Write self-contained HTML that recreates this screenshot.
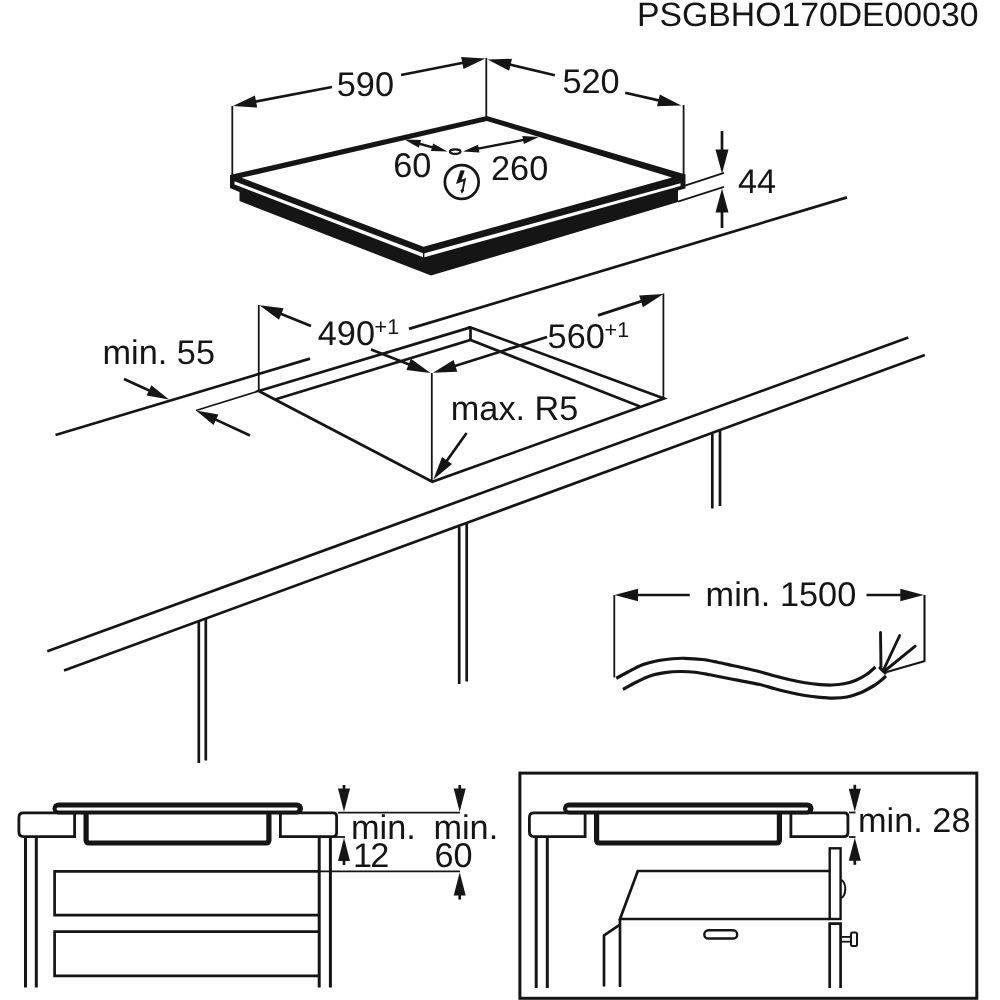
<!DOCTYPE html>
<html><head><meta charset="utf-8"><title>PSGBHO170DE00030</title>
<style>
html,body{margin:0;padding:0;background:#fff;}
body{width:1000px;height:1000px;overflow:hidden;}
svg{display:block;text-rendering:geometricPrecision;will-change:transform;}
svg text{font-family:"Liberation Sans",sans-serif;fill:#151515;}
</style></head><body>
<svg width="1000" height="1000" viewBox="0 0 1000 1000">
<rect width="1000" height="1000" fill="#ffffff"/>
<text x="637.00" y="25.8" font-size="33.75">PSGBHO170DE00030</text>
<line x1="55.5" y1="435.0" x2="310" y2="358.6017687934302" stroke="#151515" stroke-width="2.7" stroke-linecap="butt"/>
<line x1="409" y1="328.88300694883134" x2="847" y2="197.4" stroke="#151515" stroke-width="2.7" stroke-linecap="butt"/>
<line x1="47.3" y1="651.3" x2="908.3" y2="337.5" stroke="#151515" stroke-width="2.7" stroke-linecap="butt"/>
<line x1="64" y1="670.5" x2="924.8" y2="355" stroke="#151515" stroke-width="2.7" stroke-linecap="butt"/>
<line x1="198.8" y1="621.8" x2="198.8" y2="763.0" stroke="#151515" stroke-width="2.7" stroke-linecap="butt"/>
<line x1="205.8" y1="618.8" x2="205.8" y2="760.5" stroke="#151515" stroke-width="2.7" stroke-linecap="butt"/>
<line x1="459.2" y1="527" x2="459.2" y2="684.0" stroke="#151515" stroke-width="2.7" stroke-linecap="butt"/>
<line x1="466.7" y1="524" x2="466.7" y2="681.5" stroke="#151515" stroke-width="2.7" stroke-linecap="butt"/>
<line x1="712.3" y1="434" x2="712.3" y2="508.5" stroke="#151515" stroke-width="2.7" stroke-linecap="butt"/>
<line x1="720" y1="431" x2="720" y2="506" stroke="#151515" stroke-width="2.7" stroke-linecap="butt"/>
<polyline points="258.75,391.00 470.50,327.40 664.00,398.50 432.30,481.80 258.75,391.00 470.50,327.40" fill="none" stroke="#151515" stroke-width="2.7" stroke-linejoin="miter" stroke-linecap="butt"/>
<polyline points="275.00,399.50 470.50,340.00 640.00,406.50" fill="none" stroke="#151515" stroke-width="2.7" stroke-linejoin="miter" stroke-linecap="butt"/>
<line x1="470.5" y1="327.4" x2="470.5" y2="340" stroke="#151515" stroke-width="2.7" stroke-linecap="butt"/>
<line x1="258.75" y1="305" x2="258.75" y2="391" stroke="#151515" stroke-width="1.8" stroke-linecap="butt"/>
<line x1="663.4" y1="293.5" x2="663.4" y2="398.5" stroke="#151515" stroke-width="1.8" stroke-linecap="butt"/>
<line x1="431.8" y1="373" x2="431.8" y2="481.5" stroke="#151515" stroke-width="1.8" stroke-linecap="butt"/>
<line x1="258.75" y1="391" x2="196" y2="410.5" stroke="#151515" stroke-width="1.8" stroke-linecap="butt"/>
<line x1="311" y1="326" x2="276.94" y2="312.31" stroke="#151515" stroke-width="2.7" stroke-linecap="butt"/>
<polygon points="259.50,305.30 283.60,308.36 279.01,319.77" fill="#151515" stroke="none" stroke-width="0" stroke-linejoin="miter"/>
<line x1="371" y1="349.5" x2="413.01" y2="366.09" stroke="#151515" stroke-width="2.7" stroke-linecap="butt"/>
<polygon points="430.50,373.00 406.38,370.09 410.90,358.65" fill="#151515" stroke="none" stroke-width="0" stroke-linejoin="miter"/>
<text x="317.80" y="344.5" font-size="34.3">490</text>
<text x="374.60" y="333.6" font-size="21.5">+1</text>
<line x1="547" y1="337" x2="450.94" y2="367.17" stroke="#151515" stroke-width="2.7" stroke-linecap="butt"/>
<polygon points="433.00,372.80 453.58,359.89 457.26,371.63" fill="#151515" stroke="none" stroke-width="0" stroke-linejoin="miter"/>
<line x1="598" y1="315.4" x2="645.53" y2="299.85" stroke="#151515" stroke-width="2.7" stroke-linecap="butt"/>
<polygon points="663.40,294.00 642.98,307.15 639.15,295.46" fill="#151515" stroke="none" stroke-width="0" stroke-linejoin="miter"/>
<text x="547.60" y="347.6" font-size="34.3">560</text>
<text x="604.60" y="336.6" font-size="21.5">+1</text>
<text x="102.50" y="364" font-size="34.3">min. 55</text>
<line x1="124" y1="379" x2="152.98" y2="392.2" stroke="#151515" stroke-width="2.7" stroke-linecap="butt"/>
<polygon points="169.00,399.50 146.60,395.61 151.36,385.15" fill="#151515" stroke="none" stroke-width="0" stroke-linejoin="miter"/>
<line x1="250" y1="435.5" x2="211.97" y2="417.89" stroke="#151515" stroke-width="2.7" stroke-linecap="butt"/>
<polygon points="196.00,410.50 218.38,414.52 213.55,424.96" fill="#151515" stroke="none" stroke-width="0" stroke-linejoin="miter"/>
<text x="450.75" y="420" font-size="34.3">max. R5</text>
<line x1="466.6" y1="433" x2="444.31" y2="464.29" stroke="#151515" stroke-width="2.7" stroke-linecap="butt"/>
<polygon points="433.40,479.60 442.03,456.89 452.04,464.03" fill="#151515" stroke="none" stroke-width="0" stroke-linejoin="miter"/>
<line x1="685" y1="185.7" x2="724" y2="172.8" stroke="#151515" stroke-width="1.8" stroke-linecap="butt"/>
<line x1="678" y1="201.6" x2="724" y2="186.8" stroke="#151515" stroke-width="1.8" stroke-linecap="butt"/>
<polygon points="230.00,175.00 486.80,116.00 685.50,174.50 685.50,188.50 678.00,190.50 678.00,202.00 431.00,275.60 239.50,201.00 239.50,192.00 230.00,188.00" fill="#151515" stroke="none" stroke-width="0" stroke-linejoin="miter"/>
<polygon points="241.50,177.80 486.80,121.00 672.00,177.40 423.50,246.80" fill="#fff" stroke="none" stroke-width="0" stroke-linejoin="miter"/>
<polygon points="234.50,181.20 423.70,253.40 680.50,183.20 680.50,186.00 423.70,257.40 234.50,184.60" fill="#fff" stroke="none" stroke-width="0" stroke-linejoin="miter"/>
<line x1="423.7" y1="252" x2="423.7" y2="258" stroke="#151515" stroke-width="1.4" stroke-linecap="butt"/>
<line x1="232.3" y1="106" x2="232.3" y2="176" stroke="#151515" stroke-width="1.8" stroke-linecap="butt"/>
<line x1="486.3" y1="58" x2="486.3" y2="118" stroke="#151515" stroke-width="1.8" stroke-linecap="butt"/>
<line x1="683.6" y1="105" x2="683.6" y2="175" stroke="#151515" stroke-width="1.8" stroke-linecap="butt"/>
<line x1="332" y1="87" x2="251.46" y2="102.46" stroke="#151515" stroke-width="2.7" stroke-linecap="butt"/>
<polygon points="233.00,106.00 254.92,95.53 257.24,107.61" fill="#151515" stroke="none" stroke-width="0" stroke-linejoin="miter"/>
<line x1="401" y1="75" x2="466.95" y2="62.03" stroke="#151515" stroke-width="2.7" stroke-linecap="butt"/>
<polygon points="485.40,58.40 463.53,68.97 461.15,56.90" fill="#151515" stroke="none" stroke-width="0" stroke-linejoin="miter"/>
<text x="336.80" y="96.4" font-size="34.3">590</text>
<line x1="554.8" y1="75.2" x2="506.0" y2="63.71" stroke="#151515" stroke-width="2.7" stroke-linecap="butt"/>
<polygon points="487.70,59.40 511.98,58.80 509.16,70.77" fill="#151515" stroke="none" stroke-width="0" stroke-linejoin="miter"/>
<line x1="625.2" y1="92.8" x2="662.97" y2="101.42" stroke="#151515" stroke-width="2.7" stroke-linecap="butt"/>
<polygon points="681.30,105.60 657.02,106.37 659.76,94.38" fill="#151515" stroke="none" stroke-width="0" stroke-linejoin="miter"/>
<text x="562.40" y="93" font-size="34.3">520</text>
<line x1="722" y1="131" x2="722.0" y2="154.4" stroke="#151515" stroke-width="2.7" stroke-linecap="butt"/>
<polygon points="722.00,173.60 715.50,149.60 728.50,149.60" fill="#151515" stroke="none" stroke-width="0" stroke-linejoin="miter"/>
<line x1="722" y1="228" x2="722.0" y2="207.8" stroke="#151515" stroke-width="2.7" stroke-linecap="butt"/>
<polygon points="722.00,188.60 728.50,212.60 715.50,212.60" fill="#151515" stroke="none" stroke-width="0" stroke-linejoin="miter"/>
<text x="738.00" y="193.2" font-size="34.3">44</text>
<line x1="416.84" y1="143.01" x2="435.16" y2="148.09" stroke="#151515" stroke-width="2.4" stroke-linecap="butt"/>
<polygon points="447.50,151.50 431.01,151.09 433.15,143.38" fill="#151515" stroke="none" stroke-width="0" stroke-linejoin="miter"/>
<polygon points="404.50,139.60 420.99,140.01 418.85,147.72" fill="#151515" stroke="none" stroke-width="0" stroke-linejoin="miter"/>
<line x1="475.57" y1="149.18" x2="526.23" y2="139.42" stroke="#151515" stroke-width="2.4" stroke-linecap="butt"/>
<polygon points="538.80,137.00 523.85,143.95 522.33,136.10" fill="#151515" stroke="none" stroke-width="0" stroke-linejoin="miter"/>
<polygon points="463.00,151.60 477.95,144.65 479.47,152.50" fill="#151515" stroke="none" stroke-width="0" stroke-linejoin="miter"/>
<ellipse cx="455.2" cy="151.6" rx="5.3" ry="2.3" fill="#fff" stroke="#151515" stroke-width="2.2"/>
<text x="393.30" y="177.3" font-size="34.3">60</text>
<text x="491.00" y="179.8" font-size="34.3">260</text>
<circle cx="461.75" cy="182" r="16.9" fill="none" stroke="#151515" stroke-width="2.7"/>
<polygon points="460.50,170.25 464.75,170.50 461.50,179.75 466.25,177.75 463.75,189.25 464.25,190.25 461.85,193.75 460.35,190.25 462.00,189.00 463.40,181.25 456.00,184.00" fill="#151515" stroke="none" stroke-width="0" stroke-linejoin="miter"/>
<line x1="614.3" y1="595" x2="614.3" y2="677.5" stroke="#151515" stroke-width="1.8" stroke-linecap="butt"/>
<line x1="924.5" y1="595" x2="924.5" y2="661.5" stroke="#151515" stroke-width="2.1" stroke-linecap="butt"/>
<line x1="925" y1="661" x2="885" y2="672.5" stroke="#151515" stroke-width="2.2" stroke-linecap="butt"/>
<line x1="689.75" y1="595" x2="633.3" y2="595.0" stroke="#151515" stroke-width="2.7" stroke-linecap="butt"/>
<polygon points="614.50,595.00 638.00,588.85 638.00,601.15" fill="#151515" stroke="none" stroke-width="0" stroke-linejoin="miter"/>
<line x1="866.5" y1="595" x2="905.0" y2="595.0" stroke="#151515" stroke-width="2.7" stroke-linecap="butt"/>
<polygon points="923.80,595.00 900.30,601.15 900.30,588.85" fill="#151515" stroke="none" stroke-width="0" stroke-linejoin="miter"/>
<text x="705.60" y="605.5" font-size="34.3">min. 1500</text>
<path d="M616.25,678.25 C618.12,677.25 623.12,674.50 627.50,672.25 C631.88,670.00 637.50,666.67 642.50,664.75 C647.50,662.83 652.50,661.70 657.50,660.70 C662.50,659.70 668.00,659.15 672.50,658.75 C677.00,658.35 679.50,658.17 684.50,658.30 C689.50,658.42 697.00,658.85 702.50,659.50 C708.00,660.15 712.50,661.20 717.50,662.20 C722.50,663.20 727.92,664.50 732.50,665.50 C737.08,666.50 740.42,667.15 745.00,668.20 C749.58,669.25 755.00,670.50 760.00,671.80 C765.00,673.10 770.00,674.67 775.00,676.00 C780.00,677.33 785.00,678.62 790.00,679.75 C795.00,680.88 800.00,681.95 805.00,682.75 C810.00,683.55 815.50,684.17 820.00,684.55 C824.50,684.92 828.00,685.12 832.00,685.00 C836.00,684.88 840.00,684.60 844.00,683.80 C848.00,683.00 852.25,681.75 856.00,680.20 C859.75,678.65 863.25,676.70 866.50,674.50 C869.75,672.30 874.00,668.25 875.50,667.00" fill="none" stroke="#151515" stroke-width="3.2"/>
<path d="M623.00,689.50 C625.00,688.38 630.50,685.00 635.00,682.75 C639.50,680.50 645.00,677.67 650.00,676.00 C655.00,674.33 660.00,673.45 665.00,672.70 C670.00,671.95 675.00,671.58 680.00,671.50 C685.00,671.42 690.00,671.70 695.00,672.25 C700.00,672.80 705.00,673.88 710.00,674.80 C715.00,675.72 720.00,676.83 725.00,677.80 C730.00,678.77 734.17,679.48 740.00,680.60 C745.83,681.73 754.17,683.19 760.00,684.55 C765.83,685.91 770.00,687.42 775.00,688.75 C780.00,690.08 785.00,691.38 790.00,692.50 C795.00,693.62 800.00,694.67 805.00,695.50 C810.00,696.33 815.25,697.00 820.00,697.45 C824.75,697.90 829.00,698.28 833.50,698.20 C838.00,698.12 842.50,697.90 847.00,697.00 C851.50,696.10 856.25,694.55 860.50,692.80 C864.75,691.05 869.25,688.42 872.50,686.50 C875.75,684.58 877.75,683.00 880.00,681.25 C882.25,679.50 885.00,676.88 886.00,676.00" fill="none" stroke="#151515" stroke-width="3.2"/>
<line x1="880.5" y1="632.5" x2="881" y2="669" stroke="#151515" stroke-width="2.9" stroke-linecap="round"/>
<line x1="899.7" y1="635.5" x2="883" y2="671" stroke="#151515" stroke-width="2.9" stroke-linecap="round"/>
<line x1="915.2" y1="646.2" x2="884" y2="671.5" stroke="#151515" stroke-width="2.9" stroke-linecap="round"/>
<line x1="879" y1="667" x2="886" y2="674" stroke="#151515" stroke-width="2.6" stroke-linecap="butt"/>
<path d="M74.6,812.9 H23.4 Q18.9,812.9 18.9,817.4 V832.1 Q18.9,836.6 23.4,836.6 H74.6 Z" fill="#fff" stroke="#151515" stroke-width="2.8" stroke-linejoin="miter"/>
<path d="M280.4,812.9 H333.1 Q336.6,812.9 336.6,816.4 V833.1 Q336.6,836.6 333.1,836.6 H280.4 Z" fill="#fff" stroke="#151515" stroke-width="2.8" stroke-linejoin="miter"/>
<path d="M86.1,812 V840.0 Q86.1,843.0 89.1,843.0 H265.9 Q268.9,843.0 268.9,840.0 V812" fill="none" stroke="#151515" stroke-width="5.2"/>
<rect x="52.5" y="802.5" width="250.5" height="12.1" rx="6" fill="#151515"/>
<rect x="56.6" y="807.6" width="241" height="2.9" rx="1.45" fill="#fff"/>
<line x1="25.5" y1="837" x2="25.5" y2="987.5" stroke="#151515" stroke-width="3.0" stroke-linecap="butt"/>
<line x1="36.3" y1="837" x2="36.3" y2="987.5" stroke="#151515" stroke-width="3.0" stroke-linecap="butt"/>
<line x1="319.2" y1="837" x2="319.2" y2="987.5" stroke="#151515" stroke-width="3.0" stroke-linecap="butt"/>
<line x1="330.4" y1="837" x2="330.4" y2="987.5" stroke="#151515" stroke-width="3.0" stroke-linecap="butt"/>
<polyline points="319.20,871.30 54.60,871.30 54.60,915.20 319.20,915.20" fill="none" stroke="#151515" stroke-width="2.7" stroke-linejoin="miter" stroke-linecap="butt"/>
<polyline points="319.20,931.60 54.60,931.60 54.60,975.80 319.20,975.80" fill="none" stroke="#151515" stroke-width="2.7" stroke-linejoin="miter" stroke-linecap="butt"/>
<line x1="338" y1="812.6" x2="459.9" y2="812.6" stroke="#151515" stroke-width="1.8" stroke-linecap="butt"/>
<line x1="330.4" y1="837" x2="345" y2="837" stroke="#151515" stroke-width="1.8" stroke-linecap="butt"/>
<line x1="319.2" y1="871.3" x2="459.9" y2="871.3" stroke="#151515" stroke-width="1.8" stroke-linecap="butt"/>
<line x1="344" y1="785" x2="344.0" y2="793.24" stroke="#151515" stroke-width="2.7" stroke-linecap="butt"/>
<polygon points="344.00,811.80 338.00,788.60 350.00,788.60" fill="#151515" stroke="none" stroke-width="0" stroke-linejoin="miter"/>
<line x1="344" y1="865" x2="344.0" y2="856.36" stroke="#151515" stroke-width="2.7" stroke-linecap="butt"/>
<polygon points="344.00,837.80 350.00,861.00 338.00,861.00" fill="#151515" stroke="none" stroke-width="0" stroke-linejoin="miter"/>
<line x1="459.7" y1="785" x2="459.7" y2="793.24" stroke="#151515" stroke-width="2.7" stroke-linecap="butt"/>
<polygon points="459.70,811.80 453.70,788.60 465.70,788.60" fill="#151515" stroke="none" stroke-width="0" stroke-linejoin="miter"/>
<line x1="459.7" y1="899.6" x2="459.7" y2="890.86" stroke="#151515" stroke-width="2.7" stroke-linecap="butt"/>
<polygon points="459.70,872.30 465.70,895.50 453.70,895.50" fill="#151515" stroke="none" stroke-width="0" stroke-linejoin="miter"/>
<text x="351.00" y="838.9" font-size="34.3">min.</text>
<text x="352.90" y="867.4" font-size="34.3" letter-spacing="-1.8">12</text>
<text x="433.40" y="838.9" font-size="34.3">min.</text>
<text x="434.40" y="867.4" font-size="34.3">60</text>
<rect x="519.9" y="773.1" width="456.9" height="225.19999999999993" fill="none" stroke="#151515" stroke-width="3"/>
<path d="M585.1,812.9 H533.9 Q529.4,812.9 529.4,817.4 V832.1 Q529.4,836.6 533.9,836.6 H585.1 Z" fill="#fff" stroke="#151515" stroke-width="2.8" stroke-linejoin="miter"/>
<path d="M790.9,812.9 H844.4 Q847.9,812.9 847.9,816.4 V833.1 Q847.9,836.6 844.4,836.6 H790.9 Z" fill="#fff" stroke="#151515" stroke-width="2.8" stroke-linejoin="miter"/>
<path d="M596.6,812 V840.0 Q596.6,843.0 599.6,843.0 H776.4 Q779.4,843.0 779.4,840.0 V812" fill="none" stroke="#151515" stroke-width="5.2"/>
<rect x="563.0" y="802.5" width="250.5" height="12.1" rx="6" fill="#151515"/>
<rect x="567.1" y="807.6" width="241" height="2.9" rx="1.45" fill="#fff"/>
<line x1="536.2" y1="837" x2="536.2" y2="988" stroke="#151515" stroke-width="3.0" stroke-linecap="butt"/>
<line x1="547.3" y1="837" x2="547.3" y2="988" stroke="#151515" stroke-width="3.0" stroke-linecap="butt"/>
<line x1="849" y1="812.5" x2="855.5" y2="812.5" stroke="#151515" stroke-width="1.8" stroke-linecap="butt"/>
<line x1="849" y1="837" x2="855.5" y2="837" stroke="#151515" stroke-width="1.8" stroke-linecap="butt"/>
<line x1="854.8" y1="784.8" x2="854.8" y2="793.4" stroke="#151515" stroke-width="2.7" stroke-linecap="butt"/>
<polygon points="854.80,811.80 848.80,788.80 860.80,788.80" fill="#151515" stroke="none" stroke-width="0" stroke-linejoin="miter"/>
<line x1="854.8" y1="864.8" x2="854.8" y2="856.2" stroke="#151515" stroke-width="2.7" stroke-linecap="butt"/>
<polygon points="854.80,837.80 860.80,860.80 848.80,860.80" fill="#151515" stroke="none" stroke-width="0" stroke-linejoin="miter"/>
<text x="858.00" y="832" font-size="34.3">min. 28</text>
<polyline points="829.70,871.00 637.80,871.00 620.00,919.00 829.70,919.00" fill="none" stroke="#151515" stroke-width="2.7" stroke-linejoin="miter" stroke-linecap="butt"/>
<line x1="620" y1="919" x2="620" y2="987" stroke="#151515" stroke-width="2.7" stroke-linecap="butt"/>
<polyline points="620.00,924.70 604.00,935.40 604.00,986.60" fill="none" stroke="#151515" stroke-width="2.7" stroke-linejoin="miter" stroke-linecap="butt"/>
<rect x="704.3" y="930.3" width="32.9" height="8.2" rx="4.1" fill="#fff" stroke="#151515" stroke-width="2.4"/>
<rect x="829.7" y="848.3" width="10.9" height="70.7" fill="#fff" stroke="#151515" stroke-width="2.4"/>
<polyline points="829.70,988.00 829.70,923.70 840.60,923.70 840.60,988.00" fill="none" stroke="#151515" stroke-width="2.7" stroke-linejoin="miter" stroke-linecap="butt"/>
<path d="M840.6,880 A4.7,9 0 0 1 840.6,898" fill="none" stroke="#151515" stroke-width="2"/>
<line x1="840.6" y1="936.9" x2="851" y2="936.9" stroke="#151515" stroke-width="1.8" stroke-linecap="butt"/>
<line x1="840.6" y1="941.7" x2="851" y2="941.7" stroke="#151515" stroke-width="1.8" stroke-linecap="butt"/>
<rect x="851" y="932.5" width="6" height="13.5" rx="1.5" fill="#fff" stroke="#151515" stroke-width="2"/>
</svg>
</body></html>
